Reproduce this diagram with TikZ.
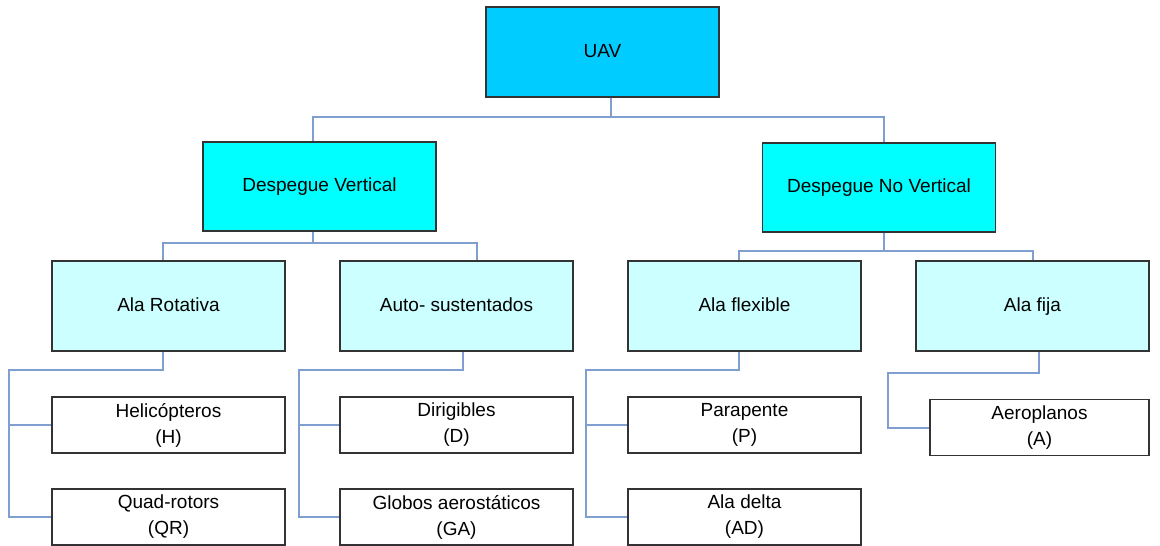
\documentclass[tikz,border=0pt]{standalone}
\usepackage{fontspec}
\setmainfont{Liberation Sans}
\usepackage{tikz}

\definecolor{uavblue}{HTML}{00CCFF}
\definecolor{lvlone}{HTML}{00FFFF}
\definecolor{lvltwo}{HTML}{CCFFFF}
\definecolor{linkblue}{HTML}{7F9FD0}

\tikzset{
  box/.style={draw=black!80, line width=1.3pt, minimum width=233pt, align=center,
    font=\fontsize{19}{26}\selectfont, inner sep=0pt},
  onebox/.style={box, text height=14pt, text depth=4pt},
  topbox/.style={onebox, fill=uavblue, minimum height=90pt},
  midbox/.style={onebox, fill=lvlone, minimum height=89pt},
  subbox/.style={onebox, fill=lvltwo, minimum height=90pt},
  leafbox/.style={box, fill=white, minimum height=56pt},
  link/.style={draw=linkblue, line width=2pt}
}

\begin{document}
\begin{tikzpicture}[x=1pt,y=-1pt]
 \useasboundingbox (0,0) rectangle (1160,546);

 % top level
 \node[topbox] (uav) at (602.5,52) {UAV};

 % take-off type
 \node[midbox] (dv) at (319.5,186.5) {Despegue Vertical};
 \node[midbox] (dnv) at (879,187.5) {Despegue No Vertical};

 % wing type
 \node[subbox] (ar) at (168.5,306) {Ala Rotativa};
 \node[subbox] (aus) at (456.5,306) {Auto- sustentados};
 \node[subbox] (afl) at (744.5,306) {Ala flexible};
 \node[subbox] (afi) at (1032.5,306) {Ala fija};

 % vehicles
 \node[leafbox] (hel) at (168.5,425) {Helicópteros\\(H)};
 \node[leafbox] (qr) at (168.5,517) {Quad-rotors\\(QR)};
 \node[leafbox] (dir) at (456.5,425) {Dirigibles\\(D)};
 \node[leafbox] (glo) at (456.5,517) {Globos aerostáticos\\(GA)};
 \node[leafbox] (par) at (744.5,425) {Parapente\\(P)};
 \node[leafbox] (ad) at (744.5,517) {Ala delta\\(AD)};
 \node[leafbox, minimum width=219pt] (aer) at (1039.5,427.5) {Aeroplanos\\(A)};

 % UAV -> take-off type
 \draw[link] ([xshift=8pt]uav.south) -- ++(0,19) coordinate (b1);
 \draw[link] (b1) -| ([xshift=-7pt]dv.north);
 \draw[link] (b1) -| ([xshift=5pt]dnv.north);

 % take-off type -> wing type
 \draw[link] ([xshift=-7pt]dv.south) -- ++(0,11) coordinate (b2);
 \draw[link] (b2) -| ([xshift=-6pt]ar.north);
 \draw[link] (b2) -| ([xshift=20pt]aus.north);
 \draw[link] ([xshift=5pt]dnv.south) -- ++(0,18) coordinate (b3);
 \draw[link] (b3) -| ([xshift=-6pt]afl.north);
 \draw[link] (b3) -| (afi.north);

 % wing type -> vehicles
 \draw[link] ([xshift=-6pt]ar.south) -- ++(0,18) -| ([xshift=-42pt]qr.west) -- (qr.west);
 \draw[link] ([xshift=-42pt]hel.west) -- (hel.west);
 \draw[link] ([xshift=6pt]aus.south) -- ++(0,18) -| ([xshift=-40pt]glo.west) -- (glo.west);
 \draw[link] ([xshift=-40pt]dir.west) -- (dir.west);
 \draw[link] ([xshift=-6pt]afl.south) -- ++(0,18) -| ([xshift=-41pt]ad.west) -- (ad.west);
 \draw[link] ([xshift=-41pt]par.west) -- (par.west);
 \draw[link] ([xshift=6pt]afi.south) -- ++(0,21) -| ([xshift=-41pt]aer.west) -- (aer.west);

\end{tikzpicture}
\end{document}
